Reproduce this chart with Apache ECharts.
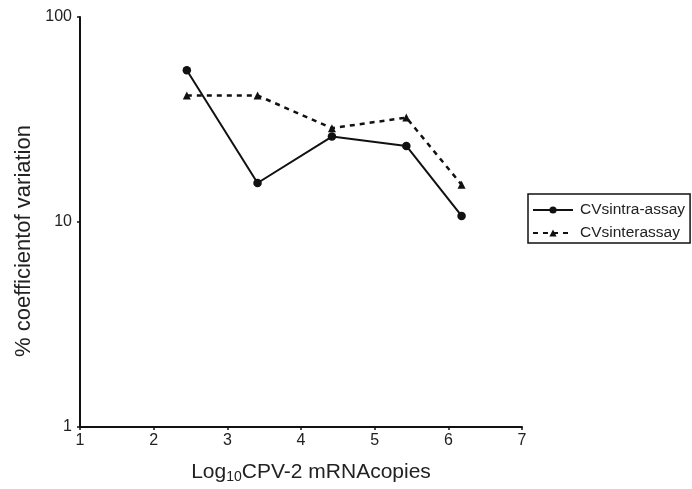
<!DOCTYPE html>
<html>
<head>
<meta charset="utf-8">
<script src="https://cdn.jsdelivr.net/npm/echarts@6/dist/echarts.min.js"></script>
<style>
html,body{margin:0;padding:0;background:#fff;}
#chart{width:692px;height:489px;}
</style>
</head>
<body>
<div id="chart"></div>
<script>
var xTicks = [1, 2, 3, 4, 5, 6, 7];
var yTicks = [1, 10, 100];
var xValues = [2.45, 3.41, 4.42, 5.43, 6.18];
var intraAssay = [55.0, 15.5, 26.1, 23.5, 10.7];
var interAssay = [41.4, 41.4, 28.7, 32.3, 15.2];
var seriesNames = ['CVsintra-assay', 'CVsinterassay'];

function pairs(xs, ys) { return xs.map(function (x, i) { return [x, ys[i]]; }); }

var font = 'Liberation Sans, Arial, sans-serif';
var chart = echarts.init(document.getElementById('chart'));
chart.setOption({
  animation: false,
  backgroundColor: '#fff',
  grid: { left: 80, right: 170, top: 17, bottom: 59 },
  xAxis: {
    type: 'value', min: xTicks[0], max: xTicks[xTicks.length - 1], interval: 1,
    axisLine: { lineStyle: { color: '#111', width: 2 } },
    axisTick: { show: true, length: 3, lineStyle: { color: '#111', width: 1.5 } },
    axisLabel: { color: '#222', fontSize: 16, fontFamily: font, margin: 6 },
    splitLine: { show: false },
    name: 'Log{sub|10}CPV-2 mRNAcopies',
    nameLocation: 'middle', nameGap: 33,
    nameTextStyle: {
      color: '#222', fontSize: 21, fontFamily: font, padding: [0, 0, 0, 20],
      rich: { sub: { fontSize: 14, fontFamily: font, color: '#222', verticalAlign: 'bottom', padding: [10, 0, 0, 0] } }
    }
  },
  yAxis: {
    type: 'log', logBase: 10, min: yTicks[0], max: yTicks[yTicks.length - 1],
    axisLine: { show: true, lineStyle: { color: '#111', width: 2 } },
    axisTick: { show: true, length: 3, lineStyle: { color: '#111', width: 1.5 } },
    axisLabel: { color: '#222', fontSize: 16, fontFamily: font, margin: 8 },
    minorTick: { show: false },
    splitLine: { show: false }
  },
  graphic: [{
    type: 'text', x: 24, y: 241,
    rotation: Math.PI / 2,
    style: { text: '% coefficientof variation', fontSize: 22, fontFamily: font, fill: '#222', textAlign: 'center', textVerticalAlign: 'middle' }
  }],
  legend: {
    orient: 'vertical', left: 528, top: 194,
    itemWidth: 40, itemHeight: 9, itemGap: 7,
    padding: [8, 5, 2, 4],
    borderColor: '#111', borderWidth: 1.5,
    textStyle: { color: '#222', fontSize: 15.5, fontFamily: font, padding: [0, 0, 0, 2] },
    data: seriesNames
  },
  series: [{
    name: seriesNames[0], type: 'line', data: pairs(xValues, intraAssay),
    symbol: 'circle', symbolSize: 8.5,
    lineStyle: { color: '#111', width: 2 },
    itemStyle: { color: '#111' }
  }, {
    name: seriesNames[1], type: 'line', data: pairs(xValues, interAssay),
    symbol: 'triangle', symbolSize: 8,
    lineStyle: { color: '#111', width: 2.5, type: [5, 5] },
    itemStyle: { color: '#111' }
  }]
});
</script>
</body>
</html>
